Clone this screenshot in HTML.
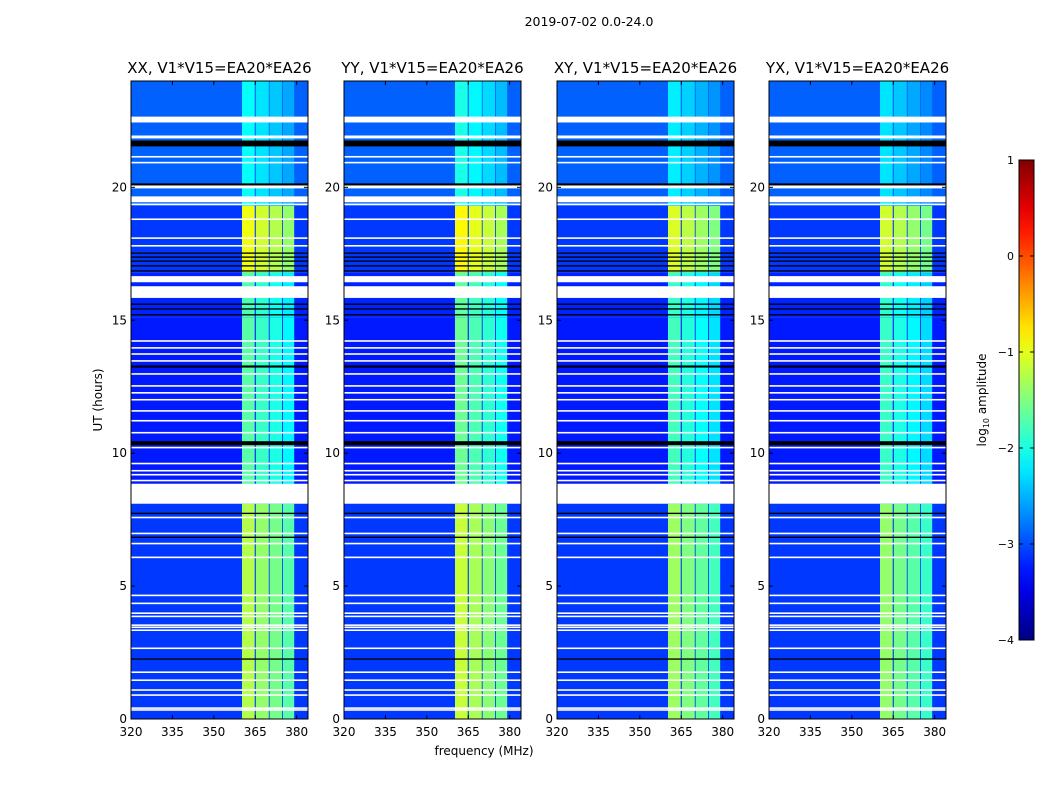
<!DOCTYPE html>
<html><head><meta charset="utf-8">
<style>
html,body{margin:0;padding:0;background:#fff;}
svg{display:block;font-family:"DejaVu Sans","Liberation Sans",sans-serif;}
</style></head>
<body>
<svg id="fig" width="1050" height="800" viewBox="0 0 1050 800">
<text x="589" y="26" font-size="12.5" text-anchor="middle">2019-07-02 0.0-24.0</text>
<text x="484" y="755" font-size="12" text-anchor="middle">frequency (MHz)</text>
<text transform="translate(102,400) rotate(-90)" font-size="12" text-anchor="middle">UT (hours)</text>
<g id="panels"></g>
<g id="cbar"></g>
</svg>
<script>
// ---- data ----
const panelTitles = ["XX, V1*V15=EA20*EA26","YY, V1*V15=EA20*EA26","XY, V1*V15=EA20*EA26","YX, V1*V15=EA20*EA26"];
const panelBandOffset = [0, 0.1, -0.1, -0.15];
const xTicks = [320,335,350,365,380];
const yTicks = [0,5,10,15,20];
// time segments [start,end] (hours) with background and band log amplitude
const segStart = [0, 8.1, 15.1, 16.8, 19.3];
const segEnd   = [8.1, 15.1, 16.8, 19.3, 24.0];
const segBg    = [-3.1, -3.25, -3.2, -3.1, -2.9];
const segBand  = [-1.25, -1.7, -1.75, -0.95, -2.1];
// frequency sub-bands (MHz) and relative level
const subStart = [360.2, 365.2, 370.2, 375.0];
const subEnd   = [364.8, 369.9, 374.7, 379.1];
const subRel   = [0, -0.15, -0.3, -0.45];
// flagged (white) intervals
const whiteStart = [22.44,21.84,21.12,20.9,19.96,19.44,19.33,18.77,18.06,17.77,16.43,15.84,14.19,13.93,13.7,13.44,12.95,12.5,12.24,11.98,11.56,11.19,10.74,10.18,9.58,9.31,9.16,8.94,8.1,7.55,6.95,6.57,6.05,4.62,4.32,3.95,3.83,3.5,3.42,3.31,2.63,1.73,1.43,1.06,0.87,0.38,0.31];
const whiteEnd   = [22.66,21.95,21.18,20.96,20.07,19.66,19.39,18.83,18.12,17.83,16.66,16.28,14.25,13.99,13.76,13.5,13.01,12.56,12.3,12.04,11.62,11.25,10.8,10.24,9.64,9.37,9.22,9.0,8.85,7.61,7.01,6.63,6.11,4.68,4.38,4.01,3.89,3.56,3.48,3.37,2.69,1.79,1.49,1.12,0.93,0.44,0.37];
// near-zero (black) intervals
const blackStart = [21.54,20.07,17.5,17.35,17.2,17.02,16.83,15.58,15.4,15.18,13.22,10.3,8.6,7.71,6.81,2.23];
const blackEnd   = [21.76,20.15,17.55,17.4,17.25,17.07,16.88,15.63,15.45,15.23,13.3,10.45,8.67,7.76,6.86,2.28];
const cbarTicks = [1,0,-1,-2,-3,-4];

// ---- layout ----
const panelX = [131,344,557,769], PW = 177, PT = 81, PB = 719;
const fMin = 320, fMax = 384.1, tMin = 0, tMax = 24;
const NS = "http://www.w3.org/2000/svg";
function mk(tag, attrs, parent){const e=document.createElementNS(NS,tag);for(const k in attrs)e.setAttribute(k,attrs[k]);parent.appendChild(e);return e;}
function jet(v){ // v in [0,1]
  const r=Math.min(Math.max(Math.min(4*v-1.5,-4*v+4.5),0),1);
  const g=Math.min(Math.max(Math.min(4*v-0.5,-4*v+3.5),0),1);
  const b=Math.min(Math.max(Math.min(4*v+0.5,-4*v+2.5),0),1);
  return `rgb(${Math.round(r*255)},${Math.round(g*255)},${Math.round(b*255)})`;
}
function col(l){return jet((l+4)/5);}
const yS = t => PB - (t - tMin)/(tMax - tMin)*(PB-PT);

const G = document.getElementById('panels');
panelX.forEach((px, p) => {
  const xS = f => px + (f - fMin)/(fMax - fMin)*PW;
  const g = mk('g',{},G);
  
  
  for(let s=0;s<segStart.length;s++){
    const r = mk('rect',{x:px,y:yS(segEnd[s]),width:PW,height:yS(segStart[s])-yS(segEnd[s]),fill:col(segBg[s])},g);
    
    
    for(let b=0;b<subStart.length;b++){
      const lv = segBand[s] + subRel[b] + panelBandOffset[p];
      const c = mk('rect',{x:xS(subStart[b]),y:yS(segEnd[s]),width:xS(subEnd[b])-xS(subStart[b]),height:yS(segStart[s])-yS(segEnd[s]),fill:col(lv)},g);
      
      
    }
  }
  for(let i=0;i<blackStart.length;i++){
    const r = mk('rect',{x:px,y:yS(blackEnd[i]),width:PW,height:Math.max(1,yS(blackStart[i])-yS(blackEnd[i])),fill:'#000'},g);
    
    
  }
  for(let i=0;i<whiteStart.length;i++){
    const r = mk('rect',{x:px,y:yS(whiteEnd[i]),width:PW,height:Math.max(1,yS(whiteStart[i])-yS(whiteEnd[i])),fill:'#fff'},g);
    
    
  }
  const fr = mk('rect',{x:px,y:PT,width:PW,height:PB-PT,fill:'none',stroke:'#000','stroke-width':1},g);
  
  
  const tt = mk('text',{x:px+PW/2,y:73,'font-size':15,'text-anchor':'middle'},g);
  tt.textContent = panelTitles[p];
  
  
  xTicks.forEach(f=>{
    const x=xS(f);
    mk('line',{x1:x,y1:PB,x2:x,y2:PB-4,stroke:'#000'},g);
    mk('line',{x1:x,y1:PT,x2:x,y2:PT+4,stroke:'#000'},g);
    const t=mk('text',{x:x,y:PB+17,'font-size':12,'text-anchor':'middle'},g);
    t.textContent=f;
    
    
  });
  yTicks.forEach(v=>{
    const y=yS(v);
    mk('line',{x1:px,y1:y,x2:px+4,y2:y,stroke:'#000'},g);
    mk('line',{x1:px+PW,y1:y,x2:px+PW-4,y2:y,stroke:'#000'},g);
    const t=mk('text',{x:px-4,y:y+4,'font-size':12,'text-anchor':'end'},g);
    t.textContent=v;
    
    
  });
});

// colorbar
const C = document.getElementById('cbar');
const cx=1019, cw=15, cTop=160, cBot=640;
const cy = v => cBot - (v+4)/5*(cBot-cTop);
const defs = mk('defs',{},C);
const lg = mk('linearGradient',{id:'jetg',x1:0,y1:1,x2:0,y2:0},defs);
for(let i=0;i<=20;i++){mk('stop',{offset:i/20,'stop-color':jet(i/20)},lg);}
const cr = mk('rect',{x:cx,y:cTop,width:cw,height:cBot-cTop,fill:'url(#jetg)',stroke:'#000','stroke-width':1},C);


cbarTicks.forEach(v=>{
  const y=cy(v);
  mk('line',{x1:cx,y1:y,x2:cx+4,y2:y,stroke:'#000'},C);
  mk('line',{x1:cx+cw,y1:y,x2:cx+cw-4,y2:y,stroke:'#000'},C);
  const t=mk('text',{x:cx-5,y:y+4,'font-size':11,'text-anchor':'end'},C);
  t.textContent = v<0 ? '\u2212'+(-v) : v;
  
  
});
const cl = mk('text',{transform:'translate(986,400) rotate(-90)','font-size':12,'text-anchor':'middle'},C);
cl.innerHTML='log<tspan font-size="8" dy="3">10</tspan><tspan dy="-3"> amplitude</tspan>';


</script>
</body></html>
